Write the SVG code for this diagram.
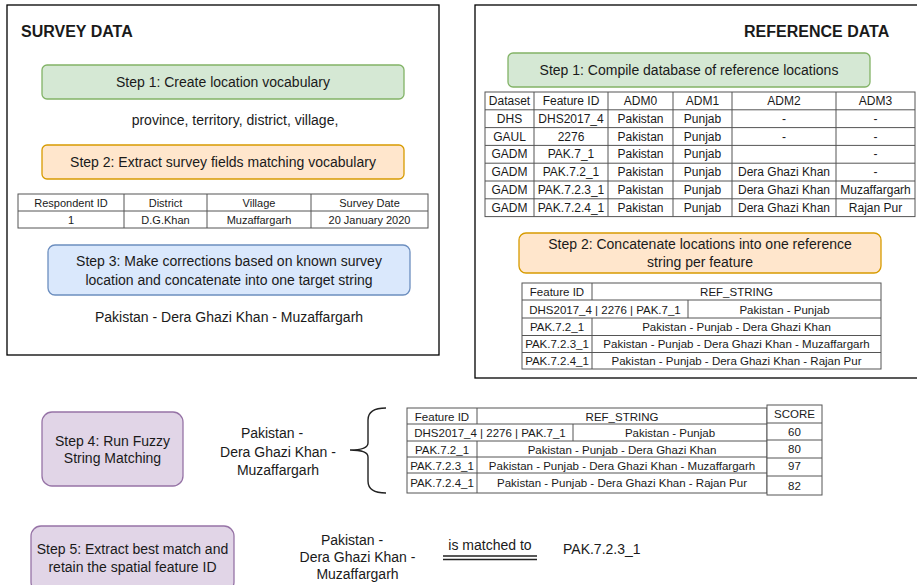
<svg xmlns="http://www.w3.org/2000/svg" width="917" height="585" viewBox="0 0 917 585">
<style>
text{font-family:"Liberation Sans",Arial,sans-serif;fill:#1a1a1a}
.t14{font-size:14px}
.t12{font-size:12px}
.t11{font-size:11px}
.t115{font-size:11.5px}
.c{text-anchor:middle}
.title{font-size:16px;font-weight:bold}
.panel{fill:#fff;stroke:#000;stroke-width:1.3}
.green{fill:#d5e8d4;stroke:#82b366;stroke-width:1.3}
.orange{fill:#ffe6cc;stroke:#d79b00;stroke-width:1.3}
.blue{fill:#dae8fc;stroke:#6c8ebf;stroke-width:1.3}
.purple{fill:#e1d5e7;stroke:#9673a6;stroke-width:1.3}
.grid{fill:#fff;stroke:#555;stroke-width:1}
.ln{stroke:#555;stroke-width:1;fill:none}
.conn{stroke:#222;stroke-width:1.4;fill:none}
</style>
<rect width="917" height="585" fill="#fff"/>

<g id="survey-panel">
<rect class="panel" x="7" y="5" width="432" height="350"/>
<text class="title" x="21" y="37">SURVEY DATA</text>
</g>
<g id="survey-step1">
<rect class="green" x="42" y="65" width="362" height="34" rx="5"/>
<text class="t14 c" x="223" y="87">Step 1: Create location vocabulary</text>
</g>
<g id="vocab">
<text class="t14 c" x="235" y="125">province, territory, district, village,</text>
</g>
<g id="survey-step2">
<rect class="orange" x="42" y="145" width="362" height="34" rx="5"/>
<text class="t14 c" x="223" y="167">Step 2: Extract survey fields matching vocabulary</text>
</g>
<g id="survey-table">
<rect class="grid" x="18" y="194" width="410" height="34"/>
<path class="ln" d="M18 211H428M124 194V228M207 194V228M311 194V228"/>
<text class="t11 c" x="71" y="207">Respondent ID</text>
<text class="t11 c" x="165.5" y="207">District</text>
<text class="t11 c" x="259" y="207">Village</text>
<text class="t11 c" x="369.5" y="207">Survey Date</text>
<text class="t11 c" x="71" y="224">1</text>
<text class="t11 c" x="165.5" y="224">D.G.Khan</text>
<text class="t11 c" x="259" y="224">Muzaffargarh</text>
<text class="t11 c" x="369.5" y="224">20 January 2020</text>
</g>
<g id="survey-step3">
<rect class="blue" x="48" y="245" width="362" height="50" rx="7"/>
<text class="t14 c" x="229" y="266">Step 3: Make corrections based on known survey</text>
<text class="t14 c" x="229" y="285">location and concatenate into one target string</text>
</g>
<g id="target-string">
<text class="t14 c" x="229" y="322">Pakistan - Dera Ghazi Khan - Muzaffargarh</text>
</g>

<g id="reference-panel">
<rect class="panel" x="475" y="5" width="450" height="373"/>
<text class="title" x="744" y="37">REFERENCE DATA</text>
</g>
<g id="ref-step1">
<rect class="green" x="508" y="53" width="362" height="34" rx="5"/>
<text class="t14 c" x="689" y="75">Step 1: Compile database of reference locations</text>
</g>
<g id="ref-table">
<rect class="grid" x="485" y="92" width="430" height="124.6"/>
<path class="ln" d="M485 109.8H915M485 127.6H915M485 145.4H915M485 163.2H915M485 181H915M485 198.8H915M534 92V216.6M608 92V216.6M673 92V216.6M732 92V216.6M836 92V216.6"/>
<g class="t12 c">
<text x="509.5" y="105">Dataset</text><text x="571" y="105">Feature ID</text><text x="640.5" y="105">ADM0</text><text x="702.5" y="105">ADM1</text><text x="784" y="105">ADM2</text><text x="875.5" y="105">ADM3</text>
<text x="509.5" y="122.8">DHS</text><text x="571" y="122.8">DHS2017_4</text><text x="640.5" y="122.8">Pakistan</text><text x="702.5" y="122.8">Punjab</text><text x="784" y="122.8">-</text><text x="875.5" y="122.8">-</text>
<text x="509.5" y="140.6">GAUL</text><text x="571" y="140.6">2276</text><text x="640.5" y="140.6">Pakistan</text><text x="702.5" y="140.6">Punjab</text><text x="784" y="140.6">-</text><text x="875.5" y="140.6">-</text>
<text x="509.5" y="158.4">GADM</text><text x="571" y="158.4">PAK.7_1</text><text x="640.5" y="158.4">Pakistan</text><text x="702.5" y="158.4">Punjab</text><text x="875.5" y="158.4">-</text>
<text x="509.5" y="176.2">GADM</text><text x="571" y="176.2">PAK.7.2_1</text><text x="640.5" y="176.2">Pakistan</text><text x="702.5" y="176.2">Punjab</text><text x="784" y="176.2">Dera Ghazi Khan</text><text x="875.5" y="176.2">-</text>
<text x="509.5" y="194">GADM</text><text x="571" y="194">PAK.7.2.3_1</text><text x="640.5" y="194">Pakistan</text><text x="702.5" y="194">Punjab</text><text x="784" y="194">Dera Ghazi Khan</text><text x="875.5" y="194">Muzaffargarh</text>
<text x="509.5" y="211.8">GADM</text><text x="571" y="211.8">PAK.7.2.4_1</text><text x="640.5" y="211.8">Pakistan</text><text x="702.5" y="211.8">Punjab</text><text x="784" y="211.8">Dera Ghazi Khan</text><text x="875.5" y="211.8">Rajan Pur</text>
</g>
</g>
<g id="ref-step2">
<rect class="orange" x="519" y="233" width="362" height="40" rx="7"/>
<text class="t14 c" x="700" y="249">Step 2: Concatenate locations into one reference</text>
<text class="t14 c" x="700" y="267">string per feature</text>
</g>
<g id="ref-string-table">
<rect class="grid" x="522" y="283" width="359" height="86"/>
<path class="ln" d="M522 300H881M522 318H881M522 335.5H881M522 352.5H881M592 283V300M592 318V369M688 300V318"/>
<g class="t115 c">
<text x="557" y="296">Feature ID</text><text x="736.5" y="296">REF_STRING</text>
<text x="605" y="313.5">DHS2017_4 | 2276 | PAK.7_1</text><text x="784.5" y="313.5">Pakistan - Punjab</text>
<text x="557" y="331">PAK.7.2_1</text><text x="736.5" y="331">Pakistan - Punjab - Dera Ghazi Khan</text>
<text x="557" y="348">PAK.7.2.3_1</text><text x="736.5" y="348">Pakistan - Punjab - Dera Ghazi Khan - Muzaffargarh</text>
<text x="557" y="365">PAK.7.2.4_1</text><text x="736.5" y="365">Pakistan - Punjab - Dera Ghazi Khan - Rajan Pur</text>
</g>
</g>

<g id="step4">
<rect class="purple" x="42" y="412" width="141" height="74" rx="10"/>
<text class="t14 c" x="112.5" y="446">Step 4: Run Fuzzy</text>
<text class="t14 c" x="112.5" y="463">String Matching</text>
</g>
<g id="query-string-1">
<text class="t14 c" x="272" y="438">Pakistan -</text>
<text class="t14 c" x="278" y="456.5">Dera Ghazi Khan -</text>
<text class="t14 c" x="278" y="475">Muzaffargarh</text>
</g>
<g id="match-table">
<rect class="grid" x="407" y="408" width="360" height="85"/>
<path class="ln" d="M407 424H767M407 441H767M407 457H767M407 473H767M477 408V424M477 441V493M573 424V441"/>
<g class="t115 c">
<text x="442" y="420.5">Feature ID</text><text x="622" y="420.5">REF_STRING</text>
<text x="490" y="437">DHS2017_4 | 2276 | PAK.7_1</text><text x="670" y="437">Pakistan - Punjab</text>
<text x="442" y="453.5">PAK.7.2_1</text><text x="622" y="453.5">Pakistan - Punjab - Dera Ghazi Khan</text>
<text x="442" y="469.5">PAK.7.2.3_1</text><text x="622" y="469.5">Pakistan - Punjab - Dera Ghazi Khan - Muzaffargarh</text>
<text x="442" y="487">PAK.7.2.4_1</text><text x="622" y="487">Pakistan - Punjab - Dera Ghazi Khan - Rajan Pur</text>
</g>
</g>
<g id="score-column">
<rect class="grid" x="767" y="405" width="55" height="90"/>
<path class="ln" d="M767 423H822M767 440H822M767 458H822M767 476H822"/>
<g class="t115 c">
<text x="794.5" y="418">SCORE</text>
<text x="794.5" y="436">60</text>
<text x="794.5" y="453">80</text>
<text x="794.5" y="470">97</text>
<text x="794.5" y="490">82</text>
</g>
</g>

<g id="step5">
<rect class="purple" x="31" y="526" width="203" height="66" rx="10"/>
<text class="t14 c" x="132.5" y="554">Step 5: Extract best match and</text>
<text class="t14 c" x="132.5" y="572">retain the spatial feature ID</text>
</g>
<g id="query-string-2">
<text class="t14 c" x="352" y="545">Pakistan -</text>
<text class="t14 c" x="357.5" y="562">Dera Ghazi Khan -</text>
<text class="t14 c" x="357.5" y="579">Muzaffargarh</text>
</g>
<g id="result">
<text class="t14" x="563" y="554">PAK.7.2.3_1</text>
</g>

<g id="connectors">
<path class="conn" d="M386 408Q368 408 368 420V443Q368 450 350 450Q368 450 368 457V481Q368 493 386 493"/>
<text class="t14 c" x="490" y="550">is matched to</text>
<path class="conn" d="M443 556H537M443 559.5H537"/>
</g>
</svg>
